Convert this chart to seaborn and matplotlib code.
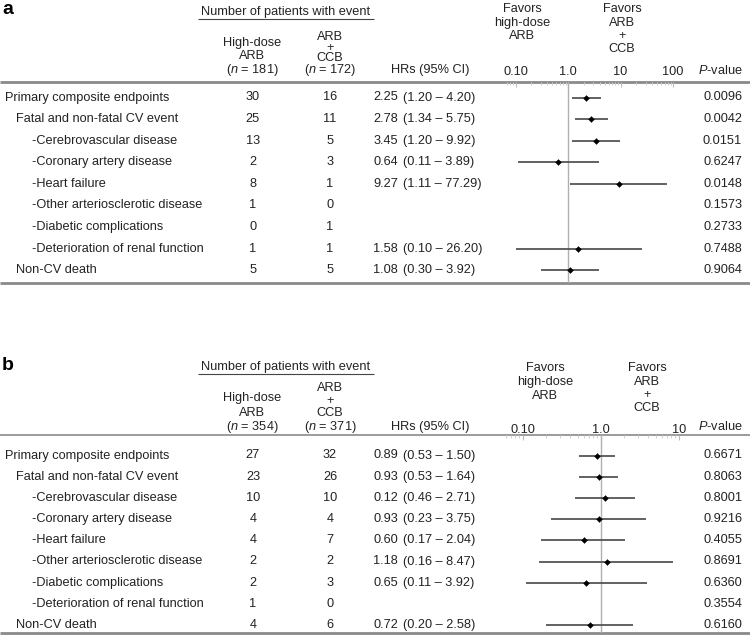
import numpy as np
import pandas as pd
import matplotlib
matplotlib.use("Agg")
import matplotlib.pyplot as plt
from matplotlib.ticker import LogLocator, NullFormatter
from matplotlib.font_manager import FontProperties
import seaborn as sns

# ---------------- data ----------------
outcomes = ["Primary composite endpoints", "Fatal and non-fatal CV event",
            "-Cerebrovascular disease", "-Coronary artery disease", "-Heart failure",
            "-Other arteriosclerotic disease", "-Diabetic complications",
            "-Deterioration of renal function", "Non-CV death"]
indent = [0, 1, 2, 2, 2, 2, 2, 2, 1]

a_n = [181, 172]
a_high = [30, 25, 13, 2, 8, 1, 0, 1, 5]
a_combo = [16, 11, 5, 3, 1, 0, 1, 1, 5]
a_hr = [2.25, 2.78, 3.45, 0.64, 9.27, np.nan, np.nan, 1.58, 1.08]
a_lo = [1.20, 1.34, 1.20, 0.11, 1.11, np.nan, np.nan, 0.10, 0.30]
a_hi = [4.20, 5.75, 9.92, 3.89, 77.29, np.nan, np.nan, 26.20, 3.92]
a_hr_text = ["2.25", "2.78", "3.45", "0.64", "9.27", "", "", "1.58", "1.08"]
a_p = ["0.0096", "0.0042", "0.0151", "0.6247", "0.0148", "0.1573", "0.2733", "0.7488", "0.9064"]
a_ticks = [0.1, 1, 10, 100]
a_ticklabels = ["0.10", "1.0", "10", "100"]

b_n = [354, 371]
b_high = [27, 23, 10, 4, 4, 2, 2, 1, 4]
b_combo = [32, 26, 10, 4, 7, 2, 3, 0, 6]
b_hr = [0.89, 0.93, 1.12, 0.93, 0.60, 1.18, 0.65, np.nan, 0.72]
b_lo = [0.53, 0.53, 0.46, 0.23, 0.17, 0.16, 0.11, np.nan, 0.20]
b_hi = [1.50, 1.64, 2.71, 3.75, 2.04, 8.47, 3.92, np.nan, 2.58]
b_hr_text = ["0.89", "0.93", "0.12", "0.93", "0.60", "1.18", "0.65", "", "0.72"]
b_p = ["0.6671", "0.8063", "0.8001", "0.9216", "0.4055", "0.8691", "0.6360", "0.3554", "0.6160"]
b_ticks = [0.1, 1, 10]
b_ticklabels = ["0.10", "1.0", "10"]

# ---------------- style ----------------
sns.set_theme(style="white")
plt.rcParams["font.family"] = ["Liberation Sans", "DejaVu Sans"]
plt.rcParams["mathtext.fontset"] = "custom"
plt.rcParams["mathtext.rm"] = "Liberation Sans"
plt.rcParams["mathtext.it"] = "Liberation Sans:italic"

W, H = 750, 640
fig = plt.figure(figsize=(W / 100, H / 100), dpi=100)
canvas = fig.add_axes([0, 0, 1, 1])
canvas.set_xlim(0, W)
canvas.set_ylim(H, 0)
canvas.axis("off")

TXT = "#222222"
FS = 9.2
renderer = fig.canvas.get_renderer()
_fp = FontProperties(family=["Liberation Sans", "DejaVu Sans"], size=FS)
_, LP_H, LP_D = renderer.get_text_width_height_descent("lp", _fp, ismath=False)
CAP = 0.688 * FS * 100 / 72


def t(x, y, s, ha="center", **kw):
    canvas.text(x, y, s, ha=ha, va="center", fontsize=kw.pop("fontsize", FS),
                color=kw.pop("color", TXT), **kw)


def stack(x, y_first, y_last, lines):
    step = (y_last - y_first) / (len(lines) - 1)
    ls = (step - LP_D) / (LP_H - LP_D)
    y_top = y_first + CAP / 2 - (LP_H - LP_D)
    canvas.text(x, y_top, "\n".join(lines), ha="center", va="top",
                multialignment="center", fontsize=FS, color=TXT, linespacing=ls)


def panel(letter, top, n, high, combo, hr, lo, hi, hr_text, pvals, ticks, ticklabels,
          row0, dy, line_y, bottom_y, ylab, fx0, fx1, one_px, dec_px,
          fav_l, fav_r, fav_l_y, fav_r_y, left_y, right_y, head_lw, tick_pad):
    # panel letter and headers
    t(2, top + 10, letter, ha="left", fontsize=14, fontweight="bold", color="black")
    t(286, top + 12, "Number of patients with event")
    canvas.hlines(top + 19, 198, 374, color="#444444", lw=0.8)
    stack(252, left_y[0], left_y[1], ["High-dose", "ARB"])
    t(252, ylab, r"($\it{n}$ = %d)" % n[0])
    stack(330, right_y[0], right_y[1], ["ARB", "+", "CCB"])
    t(330, ylab, r"($\it{n}$ = %d)" % n[1])
    t(430, ylab, "HRs (95% CI)")
    t(720, ylab, r"$\it{P}$-value")
    stack(fav_l, fav_l_y[0], fav_l_y[1], ["Favors", "high-dose", "ARB"])
    stack(fav_r, fav_r_y[0], fav_r_y[1], ["Favors", "ARB", "+", "CCB"])
    canvas.hlines(line_y, 0, W, color="#8a8a8a", lw=head_lw)
    canvas.hlines(bottom_y, 0, W, color="#8a8a8a", lw=2.0)

    rows_y = [row0 + i * dy for i in range(len(outcomes))]
    xind = {0: 5, 1: 16, 2: 32}
    for i, name in enumerate(outcomes):
        y = rows_y[i]
        t(xind[indent[i]], y, name, ha="left")
        t(253, y, str(high[i]))
        t(330, y, str(combo[i]))
        if hr_text[i]:
            t(398, y, hr_text[i], ha="right")
            t(403, y, "(%.2f \u2013 %.2f)" % (lo[i], hi[i]), ha="left")
        t(742, y, pvals[i], ha="right")

    # forest axes
    ax = fig.add_axes([fx0 / W, 1 - bottom_y / H, (fx1 - fx0) / W, (bottom_y - line_y) / H])
    df = pd.DataFrame({"hr": hr, "lo": lo, "hi": hi, "y": rows_y}).dropna()
    ax.set_xscale("log")
    ax.axvline(1, color="#b0b0b0", lw=1.0, zorder=1)
    ax.hlines(df["y"], df["lo"], df["hi"], color="#555555", lw=1.3, zorder=2)
    sns.scatterplot(data=df, x="hr", y="y", ax=ax, marker="D", color="black",
                    s=9, edgecolor="black", linewidth=0.3, legend=False, zorder=3)
    ax.set_xlim(10 ** ((fx0 - one_px) / dec_px), 10 ** ((fx1 - one_px) / dec_px))
    ax.set_ylim(bottom_y, line_y)
    ax.set_xlabel("")
    ax.set_ylabel("")
    ax.set_yticks([])
    ax.xaxis.tick_top()
    ax.set_xticks(ticks)
    ax.set_xticklabels(ticklabels)
    ax.xaxis.set_minor_locator(LogLocator(base=10, subs=np.arange(2, 10), numticks=20))
    ax.xaxis.set_minor_formatter(NullFormatter())
    ax.tick_params(axis="x", which="major", direction="in", length=3.5, width=0.8,
                   color="#bdbdbd", labelsize=FS, labelcolor=TXT, pad=tick_pad,
                   top=True, bottom=False)
    ax.tick_params(axis="x", which="minor", direction="in", length=2.5, width=0.7,
                   color="#cfcfcf", top=True, bottom=False)
    for sp in ax.spines.values():
        sp.set_visible(False)
    ax.patch.set_alpha(0)


panel("a", 0, a_n, a_high, a_combo, a_hr, a_lo, a_hi, a_hr_text, a_p, a_ticks, a_ticklabels,
      row0=97.5, dy=21.6, line_y=81.5, bottom_y=283, ylab=70,
      fx0=505, fx1=680, one_px=568, dec_px=52.5,
      fav_l=522, fav_r=622, fav_l_y=(8, 35), fav_r_y=(8, 48),
      left_y=(41.5, 55), right_y=(36, 56.5), head_lw=2.0, tick_pad=2.5)
panel("b", 355, b_n, b_high, b_combo, b_hr, b_lo, b_hi, b_hr_text, b_p, b_ticks, b_ticklabels,
      row0=455.5, dy=21.2, line_y=434.5, bottom_y=633, ylab=427,
      fx0=502, fx1=684, one_px=601, dec_px=78,
      fav_l=545, fav_r=647, fav_l_y=(367, 395), fav_r_y=(367, 406.5),
      left_y=(397, 412), right_y=(387, 412), head_lw=1.2, tick_pad=-1.0)

fig.savefig("out.png", dpi=100)
